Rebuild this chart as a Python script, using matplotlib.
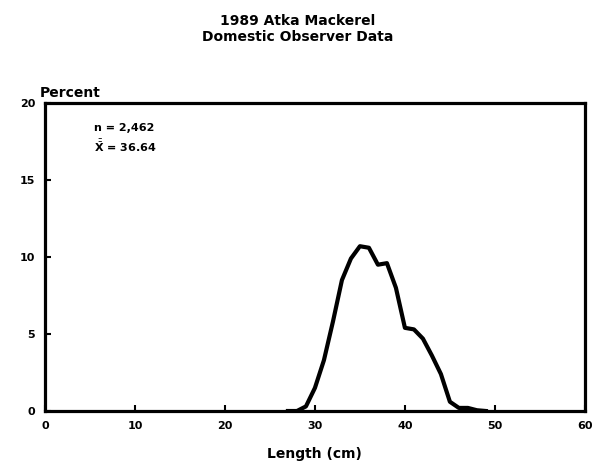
import numpy as np
import matplotlib.pyplot as plt

# length frequency, 1989 Atka mackerel, domestic observer data
lengths = [27, 28, 29, 30, 31, 32, 33, 34, 35, 36, 37, 38, 39, 40,
           41, 42, 43, 44, 45, 46, 47, 48, 49]
percent = [0.0, 0.0, 0.3, 1.5, 3.3, 5.8, 8.5, 9.9, 10.7, 10.6, 9.5, 9.6, 8.0, 5.4,
           5.3, 4.7, 3.6, 2.4, 0.6, 0.2, 0.2, 0.05, 0.0]
xticks = [0, 10, 20, 30, 40, 50, 60]
yticks = [0, 5, 10, 15, 20]

fig = plt.figure(figsize=(5.95, 4.66), dpi=100)
ax = fig.add_axes([0.0756, 0.118, 0.9074, 0.661])

ax.plot(lengths, percent, color="black", lw=3, solid_joinstyle="round")

ax.set_xlim(0, 60)
ax.set_ylim(0, 20)
ax.set_xticks(xticks)
ax.set_yticks(yticks)
ax.tick_params(direction="in", length=4, width=1.5, pad=7,
               labelsize=8)
for lab in ax.get_xticklabels() + ax.get_yticklabels():
    lab.set_fontweight("bold")
for sp in ax.spines.values():
    sp.set_linewidth(2.3)

ax.set_xlabel("Length (cm)", fontsize=10, fontweight="bold", labelpad=12)
ax.text(-0.01, 1.01, "Percent", transform=ax.transAxes, fontsize=10,
        fontweight="bold", ha="left", va="bottom")
ax.text(0.09, 0.92, "n = 2,462", transform=ax.transAxes, fontsize=8,
        fontweight="bold", va="center")
ax.text(0.09, 0.86, r"$\bar{\bar{\mathbf{X}}}$ = 36.64", transform=ax.transAxes,
        fontsize=8, fontweight="bold", va="center")

fig.text(0.5, 0.97, "1989 Atka Mackerel\nDomestic Observer Data", ha="center",
         va="top", fontsize=10, fontweight="bold", linespacing=1.2)

fig.savefig("out.png", dpi=100)
